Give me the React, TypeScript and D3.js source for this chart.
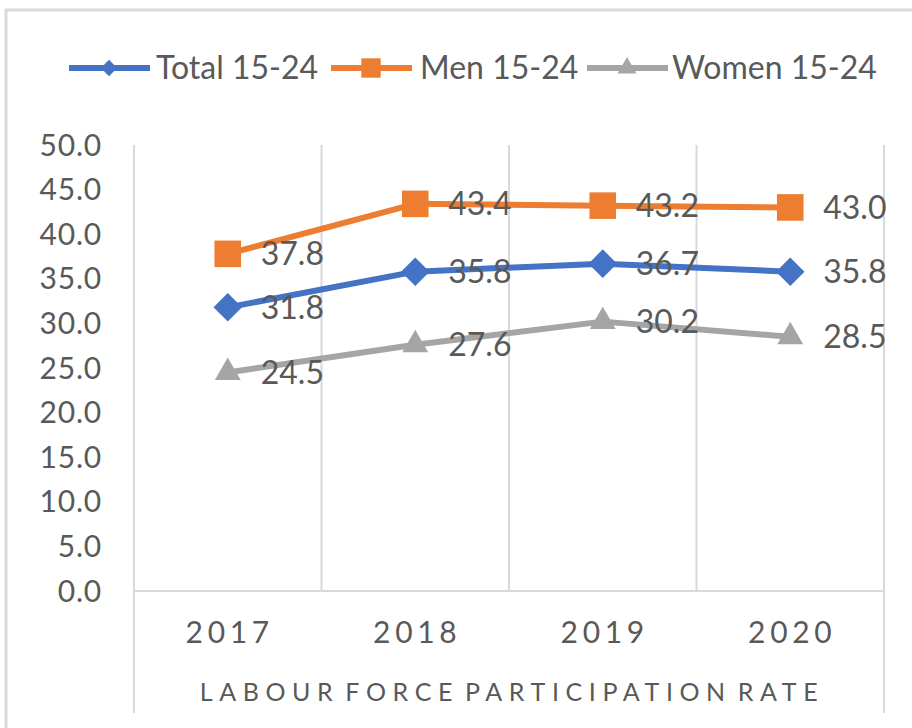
import React from "react";
import * as d3 from "d3";

const years = ["2017", "2018", "2019", "2020"];
const total = [31.8, 35.8, 36.7, 35.8];
const men = [37.8, 43.4, 43.2, 43.0];
const women = [24.5, 27.6, 30.2, 28.5];
const yTicks = [0, 5, 10, 15, 20, 25, 30, 35, 40, 45, 50];

const series = [
  { name: "Total 15-24", values: total, color: "#4472C4", symbol: d3.symbolDiamond2, size: 520, legendSize: 170 },
  { name: "Men 15-24", values: men, color: "#ED7D31", symbol: d3.symbolSquare2, size: 900, legendSize: 480 },
  { name: "Women 15-24", values: women, color: "#A5A5A5", symbol: d3.symbolTriangle2, size: 480, legendSize: 260 },
];

export default function App() {
  const width = 912;
  const height = 728;
  const left = 134;
  const right = 884;
  const top = 145;
  const bottom = 591;
  const textColor = "#595959";
  const gridColor = "#d9d9d9";
  const font = "Lato, 'Open Sans', sans-serif";

  const x = d3.scaleBand().domain(years).range([left, right]);
  const y = d3.scaleLinear().domain([0, 50]).range([bottom, top]);
  const cx = (yr: string) => (x(yr) as number) + x.bandwidth() / 2;

  const line = d3
    .line<number>()
    .x((_, i) => cx(years[i]))
    .y((d) => y(d));

  // legend: line start and text start
  const legend = [
    { lx: 69, tx: 156 },
    { lx: 331, tx: 420 },
    { lx: 587, tx: 672 },
  ];

  return (
    <svg
      width={width}
      height={height}
      style={{ position: "absolute", left: 0, top: 0, background: "#fff" }}
    >
      <rect x={6} y={10} width={930} height={740} fill="#fff" stroke={gridColor} strokeWidth={3} />

      {/* vertical grid lines */}
      {x.domain().map((yr, i) => (
        <line
          key={yr}
          x1={x(yr)}
          x2={x(yr)}
          y1={top}
          y2={i === 0 ? 713 : bottom}
          stroke={gridColor}
          strokeWidth={2}
        />
      ))}
      <line x1={right} x2={right} y1={top} y2={713} stroke={gridColor} strokeWidth={2} />
      <line x1={left} x2={right} y1={bottom} y2={bottom} stroke={gridColor} strokeWidth={2} />

      {/* y axis labels */}
      {yTicks.map((t) => (
        <text
          key={t}
          x={102}
          y={y(t)}
          dy="0.35em"
          textAnchor="end"
          fontFamily={font}
          fontSize={30}
          letterSpacing={0.8}
          fill={textColor}
        >
          {t.toFixed(1)}
        </text>
      ))}

      {/* x axis labels */}
      {years.map((yr) => (
        <text
          key={yr}
          x={cx(yr) + 2}
          y={632}
          dy="0.35em"
          textAnchor="middle"
          fontFamily={font}
          fontSize={30}
          letterSpacing={4.7}
          fill={textColor}
        >
          {yr}
        </text>
      ))}
      <text
        x={(left + right) / 2 + 3}
        y={692}
        dy="0.35em"
        textAnchor="middle"
        fontFamily={font}
        fontSize={25}
        letterSpacing={6.6}
        wordSpacing={-7}
        fill={textColor}
      >
        LABOUR FORCE PARTICIPATION RATE
      </text>

      {/* series */}
      {series.map((s) => (
        <g key={s.name}>
          <path d={line(s.values) as string} fill="none" stroke={s.color} strokeWidth={6} strokeLinejoin="round" />
          {s.values.map((v, i) => (
            <path
              key={i}
              d={d3.symbol(s.symbol, s.size)() as string}
              transform={`translate(${cx(years[i])},${y(v)})`}
              fill={s.color}
            />
          ))}
          {s.values.map((v, i) => (
            <text
              key={"l" + i}
              x={cx(years[i]) + 33}
              y={y(v)}
              dy="0.35em"
              fontFamily={font}
              fontSize={32}
              fill={textColor}
            >
              {v.toFixed(1)}
            </text>
          ))}
        </g>
      ))}

      {/* legend */}
      {series.map((s, i) => (
        <g key={"lg" + s.name}>
          <line x1={legend[i].lx} x2={legend[i].lx + 81} y1={68} y2={68} stroke={s.color} strokeWidth={6} />
          <path
            d={d3.symbol(s.symbol, s.legendSize)() as string}
            transform={`translate(${legend[i].lx + 40},68)`}
            fill={s.color}
          />
          <text x={legend[i].tx} y={68} dy="0.35em" fontFamily={font} fontSize={32} fill={textColor}>
            {s.name}
          </text>
        </g>
      ))}
    </svg>
  );
}
